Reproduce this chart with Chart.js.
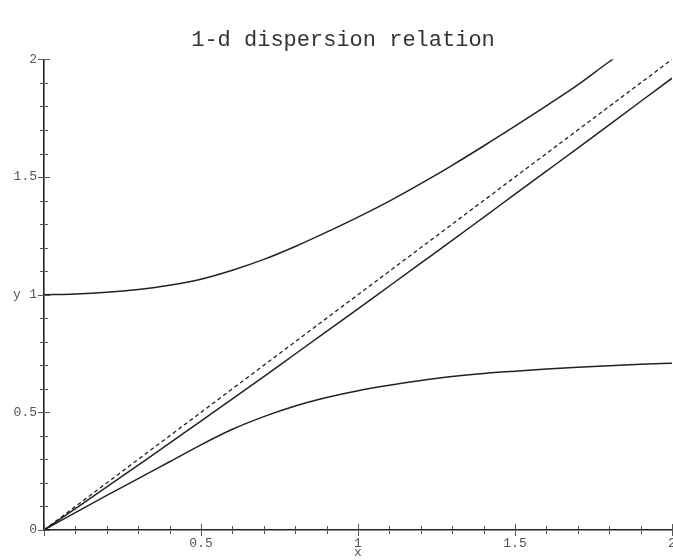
<!DOCTYPE html>
<html>
<head>
<meta charset="utf-8">
<script src="https://cdn.jsdelivr.net/npm/chart.js@4.4.0/dist/chart.umd.min.js"></script>
<style>
  html, body { margin: 0; padding: 0; background: #fff; }
  #wrap { width: 673px; height: 560px; }
</style>
</head>
<body>
<div id="wrap"><canvas id="dispChart" width="673" height="560"></canvas></div>
<script>
// values
const kValues = [0, 0.1, 0.2, 0.3, 0.4, 0.5, 0.6, 0.7, 0.8, 0.9, 1.0,
                 1.1, 1.2, 1.3, 1.4, 1.5, 1.6, 1.7, 1.8, 1.9, 2.0];
const upperBranch = [1.0, 1.003, 1.01, 1.022, 1.04, 1.066, 1.104, 1.15, 1.205, 1.266, 1.33,
                     1.398, 1.472, 1.55, 1.632, 1.716, 1.803, 1.892, 1.99, 2.08, 2.17];
const middleBranch = [0, 0.091, 0.183, 0.276, 0.369, 0.463, 0.557, 0.652, 0.748, 0.844, 0.94,
                      1.037, 1.134, 1.231, 1.329, 1.427, 1.525, 1.623, 1.722, 1.821, 1.92];
const lowerBranch = [0, 0.074, 0.147, 0.218, 0.29, 0.362, 0.428, 0.482, 0.527, 0.563, 0.592,
                     0.615, 0.635, 0.652, 0.665, 0.675, 0.684, 0.692, 0.698, 0.704, 0.709];
const lightX = [0, 2];
const lightY = [0, 2];
const tickLabels = ['0', '0.5', '1', '1.5', '2'];
const tickValues = [0, 0.5, 1, 1.5, 2];

function pts(xs, ys) {
    return xs.map(function(x, i) { return {x: x, y: ys[i]}; });
}

function majorLabel(v) {
    for (let i = 0; i < tickValues.length; i++) {
        if (Math.abs(v - tickValues[i]) < 1e-6) return tickLabels[i];
    }
    return null;
}

const tickFont = {family: 'Liberation Mono', size: 13};

var tickMarks = {
    id: 'tickMarks',
    afterDraw(chart) {
        const ctx = chart.ctx;
        const xs = chart.scales.x, ys = chart.scales.y;
        const area = chart.chartArea;
        ctx.save();
        ctx.strokeStyle = '#555';
        ctx.lineWidth = 1;
        xs.ticks.forEach(function(t) {
            const px = Math.round(xs.getPixelForValue(t.value)) + 0.5;
            const len = majorLabel(t.value) !== null ? 6 : 4;
            ctx.beginPath();
            ctx.moveTo(px, area.bottom - len);
            ctx.lineTo(px, area.bottom + len);
            ctx.stroke();
        });
        ys.ticks.forEach(function(t) {
            const py = Math.round(ys.getPixelForValue(t.value)) + 0.5;
            const len = majorLabel(t.value) !== null ? 6 : 4;
            ctx.beginPath();
            ctx.moveTo(area.left - len, py);
            ctx.lineTo(area.left + len, py);
            ctx.stroke();
        });
        // horizontal y label
        ctx.fillStyle = '#555';
        ctx.font = '13px "Liberation Mono"';
        ctx.textAlign = 'center';
        ctx.textBaseline = 'middle';
        ctx.fillText('y', 17, ys.getPixelForValue(1));
        ctx.restore();
    }
};

var lineStyle = {
    borderColor: '#222',
    borderWidth: 1.5,
    pointRadius: 0,
    fill: false,
    cubicInterpolationMode: 'monotone'
};

var dispChart = new Chart(document.getElementById('dispChart').getContext('2d'), {
    type: 'line',
    data: {
        datasets: [
            Object.assign({label: 'upper', data: pts(kValues, upperBranch)}, lineStyle),
            Object.assign({label: 'middle', data: pts(kValues, middleBranch)}, lineStyle),
            Object.assign({label: 'lower', data: pts(kValues, lowerBranch)}, lineStyle),
            Object.assign({label: 'light', data: pts(lightX, lightY), borderDash: [4, 3]}, lineStyle, {borderWidth: 1.3})
        ]
    },
    options: {
        responsive: false,
        animation: false,
        devicePixelRatio: 1,
        layout: {padding: {left: 14, right: 1, top: 0, bottom: 0}},
        plugins: {
            legend: {display: false},
            tooltip: {enabled: false},
            title: {
                display: true,
                text: '1-d dispersion relation',
                color: '#333',
                font: {family: 'Liberation Mono', size: 22, weight: 'normal'},
                padding: {top: 27, bottom: 6}
            }
        },
        scales: {
            x: {
                type: 'linear',
                min: 0,
                max: 2,
                grid: {display: false, drawTicks: false},
                border: {display: true, color: '#222', width: 1.6},
                ticks: {
                    stepSize: 0.1,
                    autoSkip: false,
                    maxRotation: 0,
                    padding: 6,
                    color: '#555',
                    font: tickFont,
                    callback: function(v) {
                        const l = majorLabel(v);
                        return (l === null || l === '0') ? '' : l;
                    }
                },
                title: {display: true, text: 'x', color: '#555', font: tickFont, padding: {top: 0, bottom: 0}},
                afterFit: function(scale) {
                    scale.height = 30;
                    scale.paddingLeft = 0;
                    scale.paddingRight = 0;
                }
            },
            y: {
                type: 'linear',
                min: 0,
                max: 2,
                grid: {display: false, drawTicks: false},
                border: {display: true, color: '#222', width: 1.6},
                ticks: {
                    stepSize: 0.1,
                    autoSkip: false,
                    padding: 7,
                    color: '#555',
                    font: tickFont,
                    callback: function(v) {
                        const l = majorLabel(v);
                        return l === null ? '' : l;
                    }
                },
                afterFit: function(scale) {
                    scale.width = 30;
                    scale.paddingTop = 0;
                    scale.paddingBottom = 0;
                }
            }
        }
    },
    plugins: [tickMarks]
});
</script>
</body>
</html>
